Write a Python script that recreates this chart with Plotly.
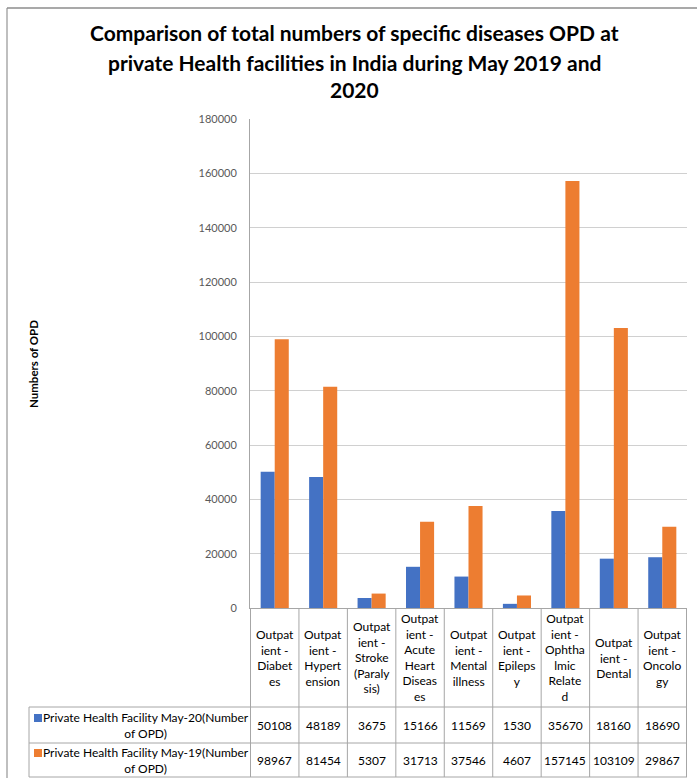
import plotly.graph_objects as go

# ---- data ----
title_text = "Comparison of total numbers of specific diseases OPD at<br>private Health facilities in India during May 2019 and<br>2020"
categories = [
    "Outpatient - Diabetes",
    "Outpatient - Hypertension",
    "Outpatient - Stroke (Paralysis)",
    "Outpatient - Acute Heart Diseases",
    "Outpatient - Mental illness",
    "Outpatient - Epilepsy",
    "Outpatient - Ophthalmic Related",
    "Outpatient - Dental",
    "Outpatient - Oncology",
]
# wrapped labels as displayed in the data table
category_labels = [
    "Outpat<br>ient -<br>Diabet<br>es",
    "Outpat<br>ient -<br>Hypert<br>ension",
    "Outpat<br>ient -<br>Stroke<br>(Paraly<br>sis)",
    "Outpat<br>ient -<br>Acute<br>Heart<br>Diseas<br>es",
    "Outpat<br>ient -<br>Mental<br>illness",
    "Outpat<br>ient -<br>Epileps<br>y",
    "Outpat<br>ient -<br>Ophtha<br>lmic<br>Relate<br>d",
    "Outpat<br>ient -<br>Dental",
    "Outpat<br>ient -<br>Oncolo<br>gy",
]
series_names = [
    "Private Health Facility May-20(Number of OPD)",
    "Private Health Facility May-19(Number of OPD)",
]
may20 = [50108, 48189, 3675, 15166, 11569, 1530, 35670, 18160, 18690]
may19 = [98967, 81454, 5307, 31713, 37546, 4607, 157145, 103109, 29867]
series_values = [may20, may19]
y_title = "Numbers of OPD"
y_ticks = [0, 20000, 40000, 60000, 80000, 100000, 120000, 140000, 160000, 180000]

# ---- styling / layout ----
colors = ["#4472C4", "#ED7D31"]
FONT = "Lato"
W, H = 697, 778
L, R, T, B = 250, 10, 119, 170
PW, PH = W - L - R, H - T - B
LINE = "#A6A6A6"


def px_x(x):
    return (x - L) / PW


def px_y(y):
    return (H - B - y) / PH


fig = go.Figure()
for name, vals, c in zip(series_names, series_values, colors):
    fig.add_trace(go.Bar(x=categories, y=vals, name=name, marker_color=c,
                         marker_line_width=0))

shapes = []
annotations = []

# title lines
for i, line in enumerate(title_text.split("<br>")):
    annotations.append(dict(text=line, xref="paper", yref="paper",
                            x=px_x(354), y=px_y([33, 62, 90][i]),
                            xanchor="center", yanchor="middle", showarrow=False,
                            font=dict(family=FONT, size=21, color="#000000", weight="bold")))

# y axis title
annotations.append(dict(text=y_title, xref="paper", yref="paper",
                        x=px_x(33), y=px_y(364), textangle=-90,
                        xanchor="center", yanchor="middle", showarrow=False,
                        font=dict(family=FONT, size=11.5, color="#000000", weight="bold")))

# outer chart border
shapes.append(dict(type="line", xref="paper", yref="paper",
                   x0=px_x(7), x1=px_x(7), y0=px_y(8), y1=px_y(H + 5),
                   line=dict(color="#BFBFBF", width=2)))
shapes.append(dict(type="line", xref="paper", yref="paper",
                   x0=px_x(7), x1=px_x(W + 5), y0=px_y(8), y1=px_y(8),
                   line=dict(color="#8C8C8C", width=1.5)))

# data table
hdr_top, row1_top, row2_top, tbl_bot = 608, 707, 743, 777
for yy in [row1_top, row2_top, tbl_bot]:
    shapes.append(dict(type="line", xref="paper", yref="paper",
                       x0=px_x(29), x1=1, y0=px_y(yy), y1=px_y(yy),
                       line=dict(color=LINE, width=1)))
shapes.append(dict(type="line", xref="paper", yref="paper",
                   x0=px_x(29), x1=px_x(29), y0=px_y(row1_top), y1=px_y(tbl_bot),
                   line=dict(color=LINE, width=1)))
for i in range(len(categories) + 1):
    shapes.append(dict(type="line", xref="x", yref="paper",
                       x0=i - 0.5, x1=i - 0.5, y0=px_y(hdr_top), y1=px_y(tbl_bot),
                       line=dict(color=LINE, width=1)))

for i, lab in enumerate(category_labels):
    annotations.append(dict(text=lab, xref="x", yref="paper", x=i,
                            y=px_y((hdr_top + row1_top) / 2),
                            xanchor="center", yanchor="middle", showarrow=False,
                            font=dict(family=FONT, size=12, color="#000000")))

row_tops = [row1_top, row2_top]
row_bots = [row2_top, tbl_bot]
for r, (name, vals, c) in enumerate(zip(series_names, series_values, colors)):
    yc = (row_tops[r] + row_bots[r]) / 2
    annotations.append(dict(text=name.replace("(Number of", "(Number<br>of"),
                            xref="paper", yref="paper", x=px_x(146), y=px_y(yc),
                            xanchor="center", yanchor="middle", showarrow=False,
                            font=dict(family=FONT, size=12, color="#000000")))
    shapes.append(dict(type="rect", xref="paper", yref="paper",
                       x0=px_x(34), x1=px_x(42), y0=px_y(yc - 11), y1=px_y(yc - 3),
                       fillcolor=c, line=dict(width=0)))
    for i, v in enumerate(vals):
        annotations.append(dict(text=str(v), xref="x", yref="paper", x=i, y=px_y(yc),
                                xanchor="center", yanchor="middle", showarrow=False,
                                font=dict(family=FONT, size=12, color="#000000")))

fig.update_layout(
    width=W, height=H,
    margin=dict(l=L, r=R, t=T, b=B, pad=0),
    paper_bgcolor="white", plot_bgcolor="white",
    barmode="group", bargap=0.42, bargroupgap=0,
    showlegend=False,
    shapes=shapes, annotations=annotations,
    font=dict(family=FONT),
)
fig.update_xaxes(showticklabels=False, ticks="", showgrid=False,
                 showline=True, linecolor=LINE, linewidth=1, zeroline=False)
fig.update_yaxes(range=[0, 180000], tickvals=y_ticks, tickformat="d", showgrid=True,
                 gridcolor="#D0D0D0", gridwidth=1, zeroline=False,
                 showline=True, linecolor=LINE, linewidth=1,
                 ticks="", ticklabelstandoff=10,
                 tickfont=dict(family=FONT, size=11, color="#595959"))

fig.write_html("out.html", config={"displayModeBar": False},
               post_script="document.body.style.margin='0';document.body.style.overflow='hidden';")
